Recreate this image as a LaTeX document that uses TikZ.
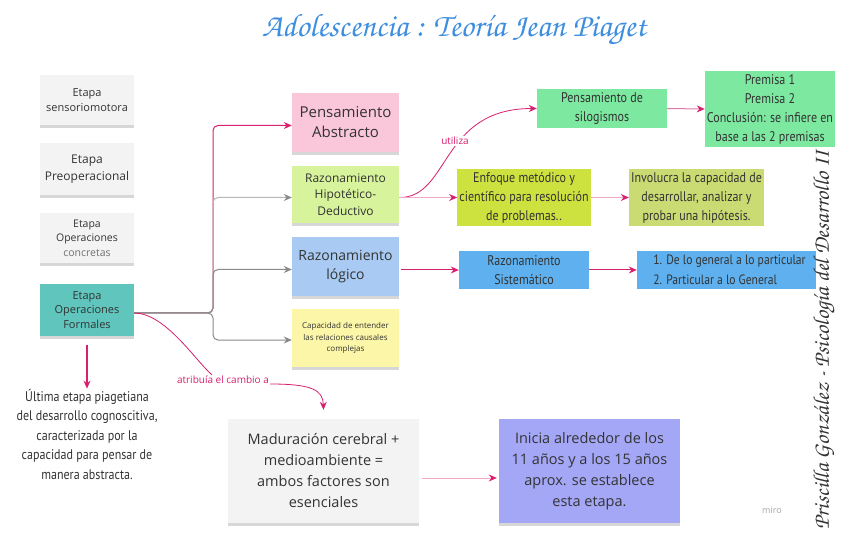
\documentclass[tikz,border=0pt]{standalone}
\usepackage{fontspec}
\setmainfont{Open Sans}
\newfontfamily\cond[FakeStretch=0.86]{PT Sans}
\newfontfamily\scriptf{TeX Gyre Chorus}
\usetikzlibrary{arrows.meta,shadows,calc}
\definecolor{pinkc}{HTML}{D8206F}
\definecolor{pinkl}{HTML}{F2A9C8}
\definecolor{pinkm}{HTML}{E07AA6}
\definecolor{grayc}{HTML}{8A8A8A}
\definecolor{grayl}{HTML}{B8B8B8}
\definecolor{boxgray}{HTML}{F3F3F4}
\definecolor{tealb}{HTML}{5FC5BD}
\definecolor{pinkbox}{HTML}{FAC6D9}
\definecolor{limeb}{HTML}{D7F39B}
\definecolor{blueb}{HTML}{A9CBF3}
\definecolor{yellowb}{HTML}{FBF6A8}
\definecolor{greenb}{HTML}{7CE8A0}
\definecolor{enfb}{HTML}{CDE23E}
\definecolor{invb}{HTML}{C9DB72}
\definecolor{blue2}{HTML}{5EB0EE}
\definecolor{lavb}{HTML}{A4A7F6}
\definecolor{titleblue}{HTML}{3D8EDF}
\definecolor{txt}{HTML}{333333}
\newcommand\fsz[2]{\fontsize{#1}{#2}\selectfont}
\begin{document}
\begin{tikzpicture}[x=1pt,y=-1pt,
  box/.style={rectangle, inner sep=2pt, align=center, text=txt},
  shad/.style={general shadow={fill=black!70, opacity=0.22, shadow yshift=-3pt}},
  pkc/.style={draw=pinkc, line width=1pt, -{Stealth[length=8pt,width=7pt,color=pinkc]}},
  pkl/.style={draw=pinkl, line width=1pt, -{Stealth[length=8pt,width=7pt,color=pinkc]}},
  pkm/.style={draw=pinkm, line width=1pt, -{Stealth[length=8pt,width=7pt,color=pinkc]}},
  grc/.style={draw=grayc, line width=1pt, rounded corners=5pt, -{Stealth[length=8pt,width=7pt,color=grayc]}},
  grl/.style={draw=grayl, line width=1pt, rounded corners=5pt, -{Stealth[length=8pt,width=7pt,color=grayc]}},
  lbl/.style={text=pinkc, font=\fsz{10}{12}, inner sep=1pt}
]
\useasboundingbox[fill=white] (0,0) rectangle (848,534);

% title
\node[text=titleblue, font=\scriptf\fsz{32.5}{36}] (title) at (454,30) {Adolescencia : Teoría Jean Piaget};

% left column
\node[box, shad, fill=boxgray, minimum width=94, minimum height=50, font=\fsz{11}{15}] (s1) at (87,100) {Etapa\\sensoriomotora};
\node[box, shad, fill=boxgray, minimum width=94, minimum height=52, font=\fsz{12}{16.5}] (s2) at (87,169) {Etapa\\Preoperacional};
\node[box, shad, fill=boxgray, minimum width=94, minimum height=50, font=\fsz{10.5}{14.5}] (s3) at (87,238) {Etapa\\Operaciones\\{\color{txt!70}concretas}};
\node[box, shad, fill=tealb, minimum width=94, minimum height=52, font=\fsz{11}{14.5}] (s4) at (87,310) {Etapa\\Operaciones\\Formales};
\node[box, font=\cond\fsz{14}{19.5}, inner sep=0pt] (ult) at (87,434) {Última etapa piagetiana\\del desarrollo cognoscitiva,\\caracterizada por la\\capacidad para pensar de\\manera abstracta.};

% middle column
\node[box, shad, fill=pinkbox, minimum width=107, minimum height=59, font=\fsz{15}{20}] (pa) at (345.5,122.5) {Pensamiento\\Abstracto};
\node[box, shad, fill=limeb, minimum width=107, minimum height=57, font=\fsz{12}{16.5}] (hd) at (345.5,194.5) {Razonamiento\\Hipotético-\\Deductivo};
\node[box, shad, fill=blueb, minimum width=107, minimum height=59, font=\fsz{14}{19}] (rl) at (345.5,266.5) {Razonamiento\\lógico};
\node[box, shad, fill=yellowb, minimum width=107, minimum height=58, font=\fsz{8}{11.5}] (cap) at (345.5,338) {Capacidad de entender\\las relaciones causales\\complejas};

% right boxes
\node[box, fill=greenb, minimum width=130, minimum height=39, font=\cond\fsz{14}{19.5}] (sil) at (602,108.5) {Pensamiento de\\silogismos};
\node[box, fill=greenb, minimum width=130, minimum height=76, font=\cond\fsz{14}{19}] (prem) at (770,109) {Premisa 1\\Premisa 2\\Conclusión: se infiere en\\base a las 2 premisas};
\node[box, fill=enfb, minimum width=130, minimum height=57, font=\cond\fsz{14}{19}] (enf) at (524,197.5) {Enfoque metódico y\\científico para resolución\\de problemas..};
\node[box, fill=invb, minimum width=131, minimum height=57, font=\cond\fsz{14}{19}] (inv) at (696.5,197.5) {Involucra la capacidad de\\desarrollar, analizar y\\probar una hipótesis.};
\node[box, fill=blue2, minimum width=130, minimum height=38, font=\cond\fsz{14}{19.5}] (sis) at (524,270) {Razonamiento\\Sistemático};
\node[box, fill=blue2, minimum width=179, minimum height=38, font=\cond\fsz{13.5}{19.5}, align=left] (gen) at (726.5,270) {\hspace*{6pt}1. De lo general a lo particular\\\hspace*{6pt}2. Particular a lo General};

% bottom boxes
\node[box, shad, fill=boxgray, minimum width=191, minimum height=104, font=\fsz{14.5}{21}] (mad) at (323.5,471) {Maduración cerebral +\\medioambiente =\\ambos factores son\\esenciales};
\node[box, shad, fill=lavb, minimum width=181, minimum height=104, font=\fsz{14.5}{21}] (ini) at (589.5,471) {Inicia alrededor de los\\11 años y a los 15 años\\aprox. se establece\\esta etapa.};

% branch connectors
\draw[pkc, rounded corners=5pt] ([yshift=-3pt]s4.east) -- (213,313) |- ([yshift=-3pt]pa.west);
\draw[grl] ([yshift=-3pt]s4.east) -- (213,313) |- ([yshift=-3pt]hd.west);
\draw[grc] ([yshift=-3pt]s4.east) -- (213,313) |- ([yshift=-3pt]rl.west);
\draw[grc] ([yshift=-3pt]s4.east) -- (213,313) |- ([yshift=-2pt]cap.west);

% down arrow
\draw[pkc, line width=1.3pt] ([yshift=-9pt]s4.south) -- (ult.north);

% atribuia
\node[lbl] (atr) at (223,380) {atribuía el cambio a};
\draw[draw=pinkc, line width=0.8pt] ([yshift=-3pt]s4.east) .. controls (165,313) and (195,360) .. ([xshift=-11pt]atr.north);
\draw[pkc, line width=0.8pt] ([yshift=-4pt]atr.east) .. controls (312,384) and (323,390) .. ([yshift=9pt]mad.north);

% right connectors
\draw[pkc, line width=0.8pt] (hd.east |- enf.west) .. controls (450,198) and (440,108.5) .. (sil.west);
\node[lbl, fill=white] (util) at (455,141) {utiliza};
\draw[pkl] (hd.east |- enf.west) -- (enf.west);
\draw[pkl] (enf.east) -- (inv.west);
\draw[pkm] (sil.east) -- (prem.west);
\draw[pkc] ([xshift=2pt]rl.east |- sis.west) -- (sis.west);
\draw[pkc] (sis.east) -- (gen.west);
\draw[pkl] ([yshift=-7pt,xshift=3pt]mad.east) -- ([yshift=-7pt,xshift=-2pt]ini.west);

% side text
\node[rotate=90, text=txt, font=\scriptf\fsz{22.5}{24}] (author) at (824,340) {Priscilla González - Psicología del Desarrollo II};
\node[text=black!35, font=\fsz{9}{10}] (miro) at (772,510) {miro};
\end{tikzpicture}
\end{document}
